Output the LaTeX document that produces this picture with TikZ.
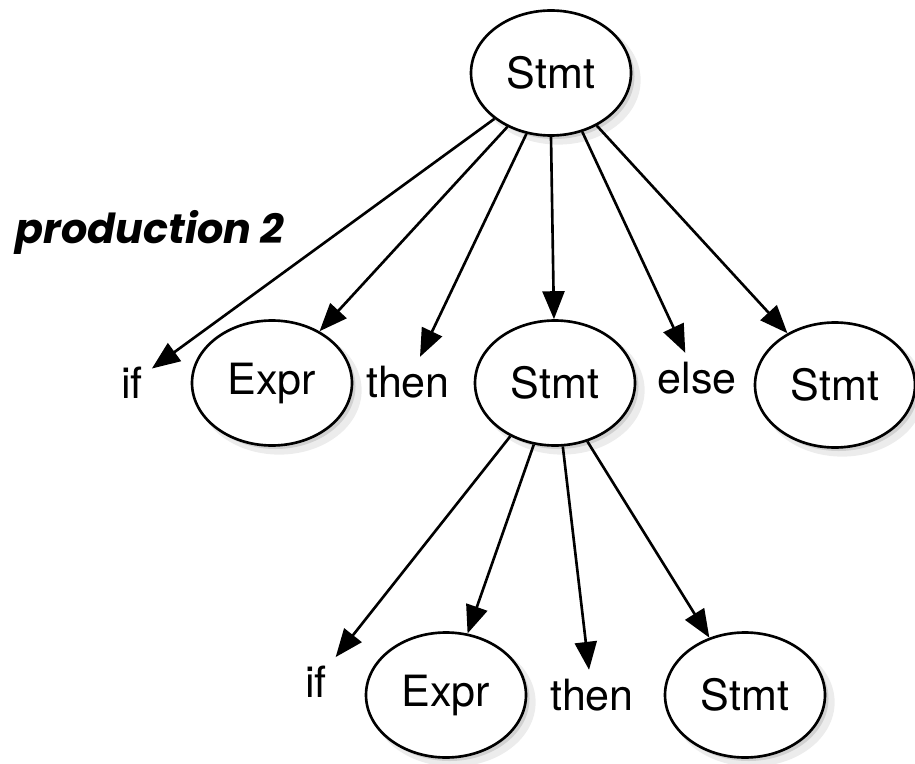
\documentclass[tikz,border=0pt]{standalone}
\usepackage{fontspec}
\setmainfont{TeX Gyre Heros}
\newfontfamily\notefont{Poppins}
\usetikzlibrary{arrows.meta, shapes.geometric, shadows}

\begin{document}
\begin{tikzpicture}[font = \fontsize{24.5}{29}\selectfont,
        nonterm/.style = {ellipse, draw, line width = 1.5pt, fill = white,
            minimum width = 3.2cm, minimum height = 2.5cm, inner sep = 0pt,
            drop shadow = {opacity = 0.15, shadow xshift = 4pt, shadow yshift = -4pt, shadow scale = 1.03},
            drop shadow = {opacity = 0.25, shadow xshift = 2pt, shadow yshift = -2pt}},
        term/.style = {inner sep = 5pt},
        derives/.style = {-{Triangle[length = 0.56cm, width = 0.44cm]}, line width = 1.5pt}]

    \useasboundingbox (0, 0) rectangle (18.3, 15.26);

    % outer if-then-else
    \node [nonterm] (stmt)  at (11.02, 13.80) {Stmt};
    \node [term]    (if1)   at (2.64, 7.60)   {if};
    \node [nonterm] (expr1) at (5.44, 7.60)   {Expr};
    \node [term]    (then1) at (8.16, 7.62)   {then};
    \node [nonterm] (stmt1) at (11.10, 7.60)  {Stmt};
    \node [term]    (else1) at (13.94, 7.70)  {else};
    \node [nonterm] (stmt2) at (16.70, 7.56)  {Stmt};

    % inner if-then
    \node [term]    (if2)   at (6.32, 1.62)   {if};
    \node [nonterm] (expr2) at (8.92, 1.36)   {Expr};
    \node [term]    (then2) at (11.84, 1.36)  {then};
    \node [nonterm] (stmt3) at (14.90, 1.36)  {Stmt};

    \node (prod) at (3.00, 10.62) {\notefont\fontsize{23.5}{28}\selectfont\bfseries\itshape production 2};

    % one arrow per child, leaving the parent at the given angle
    \foreach \angle/\child in {219/if1, 231/expr1, 248/then1, 270/stmt1, 298/else1, 311/stmt2}
        \draw [derives] (stmt.\angle) -- (\child);

    \foreach \angle/\child in {230/if2, 251/expr2, 277/then2, 299/stmt3}
        \draw [derives] (stmt1.\angle) -- (\child);
\end{tikzpicture}
\end{document}
